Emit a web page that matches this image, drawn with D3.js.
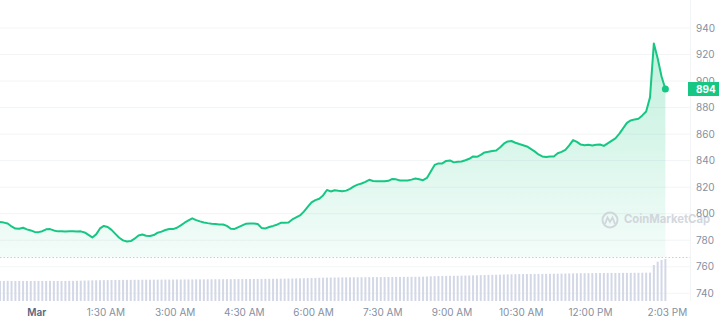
<!DOCTYPE html>
<html>
<head>
<meta charset="utf-8">
<script src="https://cdn.jsdelivr.net/npm/d3@7"></script>
<style>
  body { margin: 0; background: #fff; }
  svg { display: block; font-family: Inter, "Noto Sans", sans-serif; }
</style>
</head>
<body>
<svg id="chart"></svg>
<script>
// 5 minute samples starting at startTime
var startTime = "2023-02-28 23:13"
var stepMinutes = 5
var domainTimes = ["2023-02-28 23:13", "2023-03-01 14:10"]

var prices = [
  793.7, 793.3, 792.6, 790.4, 788.8, 788.6, 789.4, 788.2, 787.4, 786.3,
  786.1, 786.8, 788.2, 788.4, 787.4, 786.7, 786.7, 786.5, 786.8, 786.7,
  786.5, 786.7, 785.9, 784.0, 782.1, 784.4, 788.9, 790.8, 790.0, 787.8,
  784.8, 781.9, 779.9, 779.1, 779.4, 781.2, 783.6, 784.3, 783.4, 783.2,
  783.9, 785.7, 786.5, 787.7, 788.5, 788.4, 789.4, 791.2, 793.2, 794.9,
  796.5, 795.2, 794.2, 793.4, 792.9, 792.5, 792.3, 791.9, 791.9, 790.8,
  788.7, 788.5, 789.9, 791.2, 792.5, 792.7, 792.7, 792.2, 789.3, 788.9,
  790.0, 790.8, 791.7, 793.1, 793.1, 793.4, 795.7, 797.2, 798.7, 801.6,
  805.1, 808.5, 810.2, 811.3, 813.8, 817.9, 816.8, 817.7, 817.3, 817.0,
  817.4, 818.7, 820.6, 821.9, 822.8, 824.0, 825.6, 824.7, 824.4, 824.4,
  824.5, 824.8, 826.2, 825.9, 825.1, 825.1, 825.1, 825.7, 826.5, 825.9,
  825.3, 827.0, 831.9, 836.8, 837.9, 837.9, 839.8, 840.2, 838.7, 839.1,
  839.4, 840.3, 841.4, 843.2, 842.9, 844.3, 846.2, 846.7, 847.3, 847.7,
  849.9, 852.8, 854.5, 854.8, 853.5, 852.5, 851.6, 850.7, 848.9, 847.0,
  844.7, 843.2, 842.8, 843.2, 843.2, 845.6, 846.6, 848.1, 851.5, 855.5,
  854.1, 852.1, 851.6, 852.0, 851.5, 851.9, 852.2, 851.1, 853.0, 854.9,
  856.8, 860.2, 864.3, 868.5, 870.3, 871.1, 871.6, 874.1, 877.1, 887.7,
  928.4, 917.0, 903.5, 894.0
]

// volume, millions USD
var volumes = [
  478, 476, 479, 477, 475, 476, 478, 477, 476, 478,
  477, 476, 478, 479, 477, 476, 477, 478, 479, 480,
  482, 484, 487, 489, 492, 494, 495, 497, 498, 500,
  501, 502, 503, 503, 504, 505, 505, 506, 507, 507,
  508, 508, 509, 510, 510, 511, 512, 512, 513, 513,
  514, 515, 515, 516, 517, 517, 518, 518, 519, 520,
  520, 521, 522, 522, 523, 524, 525, 525, 526, 527,
  528, 529, 530, 531, 532, 534, 536, 538, 540, 542,
  545, 548, 550, 553, 555, 557, 558, 560, 561, 562,
  563, 564, 565, 566, 566, 567, 568, 569, 569, 570,
  571, 572, 572, 573, 574, 575, 575, 576, 577, 578,
  580, 584, 588, 591, 594, 596, 598, 600, 601, 602,
  604, 606, 608, 610, 613, 616, 619, 621, 623, 625,
  628, 631, 634, 636, 638, 640, 641, 642, 643, 644,
  645, 646, 647, 648, 649, 650, 652, 654, 656, 658,
  660, 661, 662, 663, 664, 665, 666, 667, 668, 669,
  668, 669, 670, 670, 671, 672, 672, 673, 674, 676,
  857, 936, 976, 1000
]

var priceTicks = [740, 760, 780, 800, 820, 840, 860, 880, 900, 920, 940]
var timeTicks = ["2023-03-01 00:00", "2023-03-01 01:30", "2023-03-01 03:00", "2023-03-01 04:30",
  "2023-03-01 06:00", "2023-03-01 07:30", "2023-03-01 09:00", "2023-03-01 10:30", "2023-03-01 12:00"]
var timeLabels = ["Mar", "1:30 AM", "3:00 AM", "4:30 AM", "6:00 AM", "7:30 AM", "9:00 AM", "10:30 AM", "12:00 PM"]
var endLabel = "2:03 PM"

var dimensions = {
    width: 719,
    height: 324,
    plotRight: 690,
    volumeTop: 257,
    volumeBottom: 301,
    volumeMaxY: 259
}

var green = "#16c784"
var parse = d3.timeParse("%Y-%m-%d %H:%M")
var t0 = parse(startTime)

var dataset = prices.map(function (p, i) {
    return { time: d3.timeMinute.offset(t0, i * stepMinutes), price: p, volume: volumes[i] }
})

var svg = d3.select("#chart")
    .attr("width", dimensions.width)
    .attr("height", dimensions.height)

var xScale = d3.scaleTime()
    .domain(domainTimes.map(parse))
    .range([0, dimensions.plotRight])

var yScale = d3.scaleLinear()
    .domain([740, 940])
    .range([293.3, 28])

var volScale = d3.scaleLinear()
    .domain([0, d3.max(volumes)])
    .range([dimensions.volumeBottom, dimensions.volumeMaxY])

var defs = svg.append("defs")
var grad = defs.append("linearGradient")
    .attr("id", "fillGrad")
    .attr("gradientUnits", "userSpaceOnUse")
    .attr("x1", 0).attr("x2", 0)
    .attr("y1", yScale(940)).attr("y2", dimensions.volumeTop)
grad.append("stop").attr("offset", "0%").attr("stop-color", green).attr("stop-opacity", 0.28)
grad.append("stop").attr("offset", "100%").attr("stop-color", green).attr("stop-opacity", 0.05)

defs.append("clipPath").attr("id", "plotClip")
    .append("rect")
    .attr("x", 0).attr("y", 0)
    .attr("width", dimensions.plotRight).attr("height", dimensions.height)

// grid
svg.append("g")
    .selectAll("line")
    .data(priceTicks)
    .enter()
    .append("line")
    .attr("x1", 0)
    .attr("x2", dimensions.plotRight)
    .attr("y1", d => yScale(d))
    .attr("y2", d => yScale(d))
    .attr("stroke", "#f3f4f6")
    .attr("stroke-width", 1)

svg.append("line")
    .attr("x1", dimensions.plotRight + 0.5)
    .attr("x2", dimensions.plotRight + 0.5)
    .attr("y1", 0)
    .attr("y2", dimensions.volumeBottom)
    .attr("stroke", "#f3f4f6")

var plot = svg.append("g").attr("clip-path", "url(#plotClip)")

// volume bars
plot.append("g")
    .selectAll("rect")
    .data(dataset)
    .enter()
    .append("rect")
    .attr("x", d => xScale(d.time) - 1)
    .attr("y", d => volScale(d.volume))
    .attr("width", 2)
    .attr("height", d => volScale(0) - volScale(d.volume))
    .attr("fill", "#d3d8e7")

// dotted separator
svg.append("line")
    .attr("x1", 0)
    .attr("x2", dimensions.plotRight)
    .attr("y1", dimensions.volumeTop + 0.5)
    .attr("y2", dimensions.volumeTop + 0.5)
    .attr("stroke", "#c8cdd7")
    .attr("stroke-dasharray", "1.5,2")

var area = d3.area()
    .x(d => xScale(d.time))
    .y0(dimensions.volumeTop)
    .y1(d => yScale(d.price))

plot.append("path")
    .datum(dataset)
    .attr("d", area)
    .attr("fill", "url(#fillGrad)")

// watermark
var wm = svg.append("g").attr("opacity", 0.9)
wm.append("circle")
    .attr("cx", 610).attr("cy", 220).attr("r", 7.5)
    .attr("fill", "none").attr("stroke", "#cfd3da").attr("stroke-width", 2)
wm.append("path")
    .attr("d", "M605,224 L607.5,217.5 L610,222 L612.5,217.5 L615,224")
    .attr("fill", "none").attr("stroke", "#cfd3da").attr("stroke-width", 1.8)
wm.append("text")
    .attr("x", 624).attr("y", 220)
    .attr("dominant-baseline", "middle")
    .attr("font-size", "12px")
    .attr("font-weight", 700)
    .attr("textLength", 86)
    .attr("lengthAdjust", "spacingAndGlyphs")
    .attr("fill", "#cfd3da")
    .text("CoinMarketCap")

var line = d3.line()
    .x(d => xScale(d.time))
    .y(d => yScale(d.price))

plot.append("path")
    .datum(dataset)
    .attr("d", line)
    .attr("fill", "none")
    .attr("stroke", green)
    .attr("stroke-width", 2)
    .attr("stroke-linejoin", "round")

var last = dataset[dataset.length - 1]
svg.append("circle")
    .attr("cx", xScale(last.time))
    .attr("cy", yScale(last.price))
    .attr("r", 3.5)
    .attr("fill", green)

// y axis
var yAxisGen = d3.axisRight(yScale)
    .tickValues(priceTicks)
    .tickSize(0)
    .tickPadding(0)
var yAxis = svg.append("g")
    .attr("transform", `translate(696,0)`)
    .call(yAxisGen)
yAxis.select(".domain").remove()
yAxis.selectAll("text")
    .attr("font-family", "Inter, sans-serif")
    .attr("font-size", "10px")
    .attr("fill", "#868fa1")

// price badge
svg.append("rect")
    .attr("x", 688)
    .attr("y", yScale(last.price) - 7)
    .attr("width", 31)
    .attr("height", 14)
    .attr("fill", green)
svg.append("text")
    .attr("x", 696)
    .attr("y", yScale(last.price))
    .attr("dominant-baseline", "central")
    .attr("font-size", "10px")
    .attr("font-weight", 700)
    .attr("fill", "#fff")
    .text(d3.format(".0f")(last.price))

// x axis
var xAxisGen = d3.axisBottom(xScale)
    .tickValues(timeTicks.map(parse))
    .tickFormat((d, i) => timeLabels[i])
    .tickSize(0)
    .tickPadding(0)
var xAxis = svg.append("g")
    .attr("transform", `translate(0,309)`)
    .call(xAxisGen)
xAxis.select(".domain").remove()
xAxis.selectAll("text")
    .attr("font-family", "Inter, sans-serif")
    .attr("font-size", "10px")
    .attr("font-weight", (d, i) => i === 0 ? 600 : 400)
    .style("fill", (d, i) => i === 0 ? "#58667e" : "#868fa1")

svg.append("text")
    .attr("x", xScale(last.time) + 2)
    .attr("y", 309)
    .attr("dy", "0.71em")
    .attr("text-anchor", "middle")
    .attr("font-size", "10px")
    .attr("fill", "#868fa1")
    .text(endLabel)
</script>
</body>
</html>
